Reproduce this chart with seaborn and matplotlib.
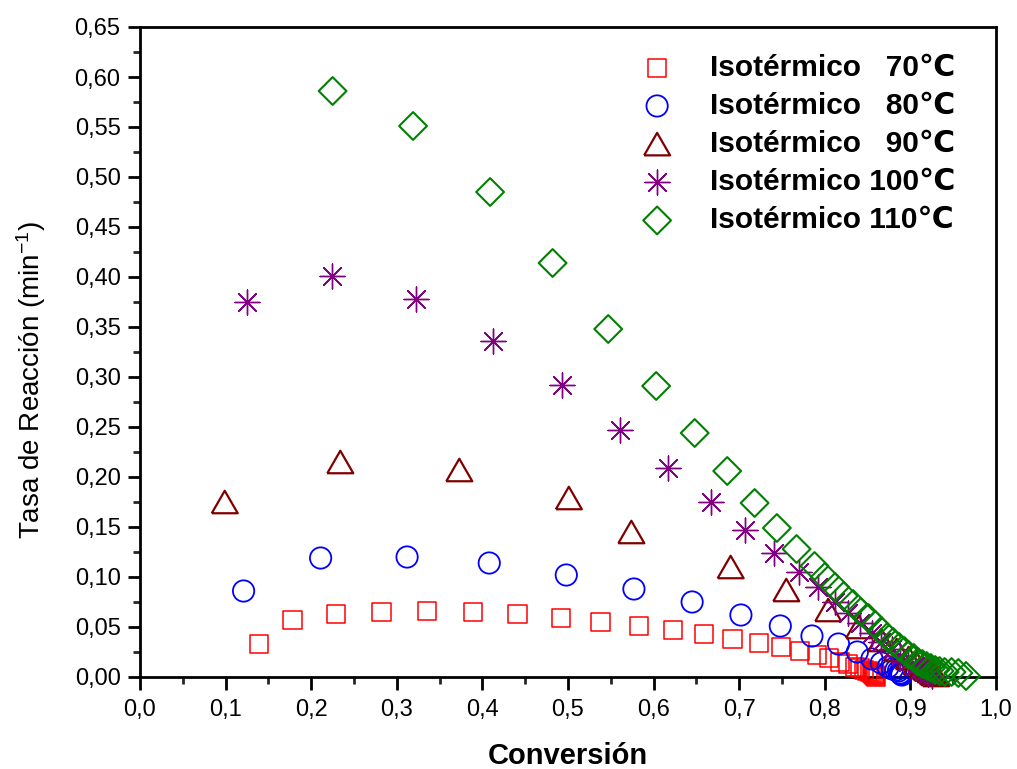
"""Reaction rate vs conversion for isothermal runs at 70-110 C."""

import matplotlib

matplotlib.use("Agg")

import matplotlib.pyplot as plt
import seaborn as sns
from matplotlib.ticker import FuncFormatter, MultipleLocator

# --- data ---
x70 = [0.139, 0.178, 0.229, 0.282, 0.335, 0.389, 0.441, 0.492, 0.538, 0.583,
       0.623, 0.659, 0.692, 0.723, 0.749, 0.771, 0.791, 0.805, 0.818, 0.827,
       0.835, 0.841, 0.846, 0.850, 0.853, 0.855, 0.857, 0.858, 0.859, 0.860]
y70 = [0.033, 0.057, 0.063, 0.065, 0.066, 0.065, 0.063, 0.059, 0.055, 0.051,
       0.047, 0.043, 0.038, 0.034, 0.030, 0.026, 0.022, 0.019, 0.015, 0.013,
       0.010, 0.009, 0.007, 0.006, 0.005, 0.004, 0.003, 0.002, 0.001, 0.000]

x80 = [0.121, 0.211, 0.312, 0.408, 0.498, 0.577, 0.645, 0.702, 0.748, 0.785,
       0.816, 0.838, 0.855, 0.866, 0.874, 0.879, 0.883, 0.886, 0.888, 0.889,
       0.890]
y80 = [0.086, 0.119, 0.120, 0.114, 0.102, 0.088, 0.075, 0.062, 0.051, 0.041,
       0.033, 0.025, 0.018, 0.014, 0.010, 0.008, 0.007, 0.006, 0.004, 0.003,
       0.002]

x90 = [0.099, 0.234, 0.373, 0.501, 0.574, 0.690, 0.755, 0.804, 0.840, 0.866,
       0.884, 0.898, 0.907, 0.914, 0.919, 0.923, 0.926, 0.928, 0.930]
y90 = [0.175, 0.215, 0.207, 0.179, 0.145, 0.110, 0.087, 0.067, 0.050, 0.037,
       0.027, 0.019, 0.014, 0.010, 0.008, 0.006, 0.004, 0.003, 0.002]

x100 = [0.125, 0.224, 0.322, 0.412, 0.493, 0.561, 0.617, 0.667, 0.707, 0.741,
        0.770, 0.792, 0.812, 0.827, 0.841, 0.855, 0.866, 0.878, 0.888, 0.897,
        0.905, 0.911, 0.916, 0.921, 0.925]
y100 = [0.375, 0.401, 0.378, 0.336, 0.292, 0.247, 0.209, 0.175, 0.147, 0.124,
        0.105, 0.090, 0.075, 0.064, 0.054, 0.044, 0.035, 0.028, 0.021, 0.015,
        0.011, 0.008, 0.005, 0.003, 0.001]

x110 = [0.225, 0.319, 0.409, 0.482, 0.547, 0.603, 0.648, 0.686, 0.718, 0.744,
        0.767, 0.788, 0.800, 0.812, 0.822, 0.833, 0.842, 0.851, 0.859, 0.866,
        0.873, 0.880, 0.887, 0.893, 0.898, 0.904, 0.909, 0.914, 0.919, 0.924,
        0.929, 0.934, 0.940, 0.948, 0.956, 0.965]
y110 = [0.586, 0.551, 0.485, 0.414, 0.348, 0.291, 0.244, 0.206, 0.174, 0.149,
        0.128, 0.111, 0.100, 0.090, 0.081, 0.073, 0.065, 0.059, 0.052, 0.046,
        0.040, 0.035, 0.030, 0.026, 0.022, 0.019, 0.015, 0.013, 0.011, 0.009,
        0.007, 0.006, 0.005, 0.005, 0.004, 0.001]

labels = [
    "Isotérmico   70\u2103",
    "Isotérmico   80\u2103",
    "Isotérmico   90\u2103",
    "Isotérmico 100\u2103",
    "Isotérmico 110\u2103",
]

TRIANGLE = [(-1, -0.866), (1, -0.866), (0, 0.866), (-1, -0.866)]
ASTERISK = (8, 2, 0)

# (x, y, colour, marker, size, edge width)
series = [
    (x70, y70, "#FF0000", "s", 175, 1.1),
    (x80, y80, "#0000FF", "o", 235, 1.3),
    (x90, y90, "#800000", TRIANGLE, 350, 1.6),
    (x100, y100, "#800080", ASTERISK, 320, 1.0),
    (x110, y110, "#008000", "D", 200, 1.5),
]

sns.set_style("ticks")
plt.rcParams["font.family"] = ["Liberation Sans", "DejaVu Sans"]
plt.rcParams["mathtext.default"] = "regular"
plt.rcParams["text.color"] = "black"
plt.rcParams["axes.labelcolor"] = "black"

fig = plt.figure(figsize=(10.17, 7.69), dpi=100)
ax = fig.add_axes([140 / 1017, 92 / 769, 856 / 1017, 650 / 769])

for (xs, ys, color, marker, size, lw), label in zip(series, labels):
    kw = {} if marker == ASTERISK else {"facecolor": "none", "edgecolor": color}
    sns.scatterplot(
        x=xs,
        y=ys,
        ax=ax,
        marker=marker,
        s=size,
        color=color,
        linewidth=lw,
        label=label,
        clip_on=False,
        zorder=3,
        **kw,
    )

ax.set_xlim(0, 1.0)
ax.set_ylim(0, 0.65)
ax.xaxis.set_major_locator(MultipleLocator(0.1))
ax.xaxis.set_minor_locator(MultipleLocator(0.05))
ax.yaxis.set_major_locator(MultipleLocator(0.05))
ax.yaxis.set_minor_locator(MultipleLocator(0.025))
ax.xaxis.set_major_formatter(FuncFormatter(lambda v, _: f"{v:.1f}".replace(".", ",")))
ax.yaxis.set_major_formatter(FuncFormatter(lambda v, _: f"{v:.2f}".replace(".", ",")))

for side in ["left", "right", "top", "bottom"]:
    ax.spines[side].set_linewidth(2.0)
    ax.spines[side].set_color("black")

ax.tick_params(which="major", direction="out", length=9, width=2, labelsize=17,
               colors="black", top=False, right=False)
ax.tick_params(which="minor", direction="out", length=5, width=2,
               top=False, right=False)
ax.tick_params(axis="x", which="major", pad=7)
ax.tick_params(axis="y", which="major", pad=5)

ax.set_xlabel("Conversión", fontsize=21, fontweight="bold")
ax.set_ylabel("Tasa de Reacción (min$^{-1}$)", fontsize=20)
ax.xaxis.set_label_coords(0.5, -0.100)
ax.yaxis.set_label_coords(-0.108, 0.457)

ax.legend(
    loc="upper right",
    bbox_to_anchor=(0.952, 0.959),
    frameon=False,
    borderpad=0,
    borderaxespad=0,
    handletextpad=0.76,
    labelspacing=0.34,
    scatterpoints=1,
    prop={"weight": "bold", "size": 21.5},
)

fig.savefig("out.png", dpi=100)
